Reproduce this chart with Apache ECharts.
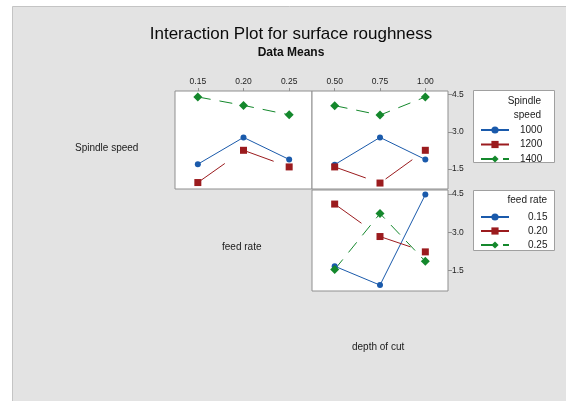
<!DOCTYPE html>
<html>
<head>
<meta charset="utf-8">
<script src="https://cdn.jsdelivr.net/npm/echarts@6/dist/echarts.min.js"></script>
<style>
html,body{margin:0;padding:0;background:#fff;}
#chart{width:566px;height:401px;}
</style>
</head>
<body>
<div id="chart"></div>
<script>
// Categories
const feedRate = ['0.15', '0.20', '0.25'];
const depthOfCut = ['0.50', '0.75', '1.00'];
const spindleSpeed = ['1000', '1200', '1400'];
const yTickValues = [1.5, 3.0, 4.5];

// Data means: spindle speed traces over feed rate
const ss1000ByFeed = [1.70, 2.78, 1.89];
const ss1200ByFeed = [0.96, 2.26, 1.59];
const ss1400ByFeed = [4.41, 4.07, 3.69];
// spindle speed traces over depth of cut
const ss1000ByDepth = [1.68, 2.78, 1.89];
const ss1200ByDepth = [1.59, 0.94, 2.26];
const ss1400ByDepth = [4.06, 3.68, 4.41];
// feed rate traces over depth of cut
const fr015ByDepth = [1.67, 0.93, 4.47];
const fr020ByDepth = [4.10, 2.83, 2.23];
const fr025ByDepth = [1.54, 3.73, 1.86];

const BLUE = '#1a5aab', RED = '#9b1b1e', GREEN = '#14882c';
const FONT = 'Liberation Sans, Arial, sans-serif';
const TICKFONT = 'Liberation Sans Narrow, Liberation Sans, Arial, sans-serif';

const styles = [
  {color: BLUE, symbol: 'circle', symbolSize: 6, dash: 'solid'},
  {color: RED, symbol: 'rect', symbolSize: 7, dash: [33, 22]},
  {color: GREEN, symbol: 'diamond', symbolSize: 9, dash: [13, 9]}
];

function mk(name, data, idx, st) {
  return {
    type: 'line', name: name, data: data,
    xAxisIndex: idx, yAxisIndex: idx,
    symbol: st.symbol, symbolSize: st.symbolSize,
    itemStyle: {color: st.color},
    lineStyle: {color: st.color, width: 1, type: st.dash},
    emphasis: {disabled: true}, animation: false
  };
}

const grids = [
  {left: 175, top: 91, width: 137, height: 98},
  {left: 312, top: 91, width: 136, height: 98},
  {left: 312, top: 190, width: 136, height: 101}
].map(g => Object.assign(g, {show: true, backgroundColor: '#ffffff', borderColor: '#8f8f8f', borderWidth: 1}));

function xAx(idx, cats, showLabels) {
  return {
    type: 'category', gridIndex: idx, data: cats, position: 'top', boundaryGap: true,
    axisLine: {show: false},
    axisTick: {show: showLabels, alignWithLabel: true, length: 3, lineStyle: {color: '#8f8f8f'}},
    axisLabel: {show: showLabels, fontSize: 8.5, fontFamily: TICKFONT, color: '#222', margin: 5}
  };
}
function yAx(idx, showLabels) {
  return {
    type: 'value', gridIndex: idx, min: 0.7, max: 4.65, position: 'right',
    splitLine: {show: false}, axisLine: {show: false},
    axisTick: {show: showLabels, length: 4, customValues: yTickValues, lineStyle: {color: '#8f8f8f'}},
    axisLabel: {show: showLabels, customValues: yTickValues, fontSize: 8.5, fontFamily: TICKFONT, color: '#222', margin: 4,
      formatter: v => v.toFixed(1)}
  };
}

const series = [
  mk(spindleSpeed[0], ss1000ByFeed, 0, styles[0]),
  mk(spindleSpeed[1], ss1200ByFeed, 0, styles[1]),
  mk(spindleSpeed[2], ss1400ByFeed, 0, styles[2]),
  mk(spindleSpeed[0], ss1000ByDepth, 1, styles[0]),
  mk(spindleSpeed[1], ss1200ByDepth, 1, styles[1]),
  mk(spindleSpeed[2], ss1400ByDepth, 1, styles[2]),
  mk(feedRate[0], fr015ByDepth, 2, styles[0]),
  mk(feedRate[1], fr020ByDepth, 2, styles[1]),
  mk(feedRate[2], fr025ByDepth, 2, styles[2])
];

const legendBase = {
  orient: 'vertical', left: 475, itemWidth: 28, itemHeight: 9, selectedMode: false,
  textStyle: {fontSize: 10, fontFamily: FONT, color: '#1a1a1a'}
};

const chart = echarts.init(document.getElementById('chart'));
chart.setOption({
  backgroundColor: '#ffffff',
  animation: false,
  title: {
    text: 'Interaction Plot for surface roughness',
    subtext: 'Data Means',
    left: 286, top: 21, textAlign: 'center', itemGap: 4,
    textStyle: {fontSize: 17, fontWeight: 'normal', fontFamily: FONT, color: '#0a0a0a'},
    subtextStyle: {fontSize: 12, fontWeight: 'bold', fontFamily: FONT, color: '#111'}
  },
  graphic: [
    {type: 'rect', z: -10, silent: true, shape: {x: 12.5, y: 6.5, width: 600, height: 420},
      style: {fill: '#e3e3e3', stroke: '#c4c4c4', lineWidth: 1}},
    {type: 'rect', z: 1, silent: true, shape: {x: 473.5, y: 90.5, width: 81, height: 72},
      style: {fill: '#ffffff', stroke: '#a0a0a0', lineWidth: 1}},
    {type: 'rect', z: 1, silent: true, shape: {x: 473.5, y: 190.5, width: 81, height: 60},
      style: {fill: '#ffffff', stroke: '#a0a0a0', lineWidth: 1}},
    {type: 'text', z: 2, silent: true, style: {x: 541, y: 101, text: 'Spindle', align: 'right', verticalAlign: 'middle',
      font: '10px ' + FONT, fill: '#1a1a1a'}},
    {type: 'text', z: 2, silent: true, style: {x: 541, y: 115, text: 'speed', align: 'right', verticalAlign: 'middle',
      font: '10px ' + FONT, fill: '#1a1a1a'}},
    {type: 'text', z: 2, silent: true, style: {x: 547, y: 200, text: 'feed rate', align: 'right', verticalAlign: 'middle',
      font: '10px ' + FONT, fill: '#1a1a1a'}},
    {type: 'text', silent: true, style: {x: 75, y: 148, text: 'Spindle speed', verticalAlign: 'middle',
      font: '10px ' + FONT, fill: '#1a1a1a'}},
    {type: 'text', silent: true, style: {x: 222, y: 247, text: 'feed rate', verticalAlign: 'middle',
      font: '10px ' + FONT, fill: '#1a1a1a'}},
    {type: 'text', silent: true, style: {x: 352, y: 347, text: 'depth of cut', verticalAlign: 'middle',
      font: '10px ' + FONT, fill: '#1a1a1a'}}
  ],
  legend: [
    Object.assign({}, legendBase, {top: 120, itemGap: 4.5, data: spindleSpeed,
      formatter: n => '{a|' + n + '}', textStyle: Object.assign({}, legendBase.textStyle, {rich: {a: {fontSize: 10, fontFamily: FONT, color: '#1a1a1a', padding: [0, 0, 0, 6]}}})}),
    Object.assign({}, legendBase, {top: 207, itemGap: 4, data: feedRate,
      formatter: n => '{a|' + n + '}', textStyle: Object.assign({}, legendBase.textStyle, {rich: {a: {fontSize: 10, fontFamily: FONT, color: '#1a1a1a', padding: [0, 0, 0, 14]}}})})
  ],
  grid: grids,
  xAxis: [xAx(0, feedRate, true), xAx(1, depthOfCut, true), xAx(2, depthOfCut, false)],
  yAxis: [yAx(0, false), yAx(1, true), yAx(2, true)],
  series: series
});
</script>
</body>
</html>
